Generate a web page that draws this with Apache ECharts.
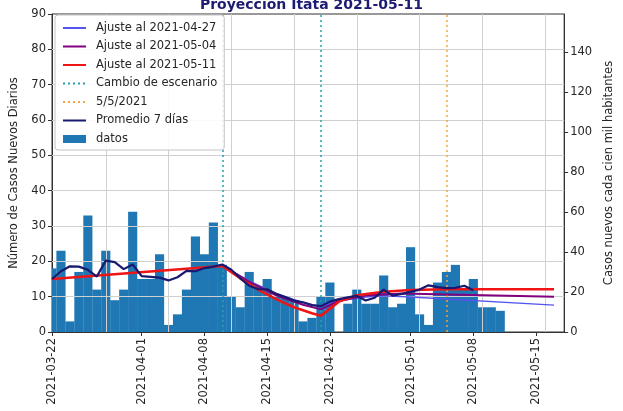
<!DOCTYPE html>
<html>
<head>
<meta charset="utf-8">
<script src="https://cdn.jsdelivr.net/npm/echarts@6/dist/echarts.min.js"></script>
<style>
  html, body { margin: 0; padding: 0; background: #fff; }
  #chart { width: 623px; height: 411px; }
</style>
</head>
<body>
<div id="chart"></div>
<script>
// casos diarios, 2021-03-22 .. 2021-05-11
const fechas = [
  '2021-03-22', '2021-03-23', '2021-03-24', '2021-03-25', '2021-03-26', '2021-03-27', '2021-03-28',
  '2021-03-29', '2021-03-30', '2021-03-31', '2021-04-01', '2021-04-02', '2021-04-03', '2021-04-04',
  '2021-04-05', '2021-04-06', '2021-04-07', '2021-04-08', '2021-04-09', '2021-04-10', '2021-04-11',
  '2021-04-12', '2021-04-13', '2021-04-14', '2021-04-15', '2021-04-16', '2021-04-17', '2021-04-18',
  '2021-04-19', '2021-04-20', '2021-04-21', '2021-04-22', '2021-04-23', '2021-04-24', '2021-04-25',
  '2021-04-26', '2021-04-27', '2021-04-28', '2021-04-29', '2021-04-30', '2021-05-01', '2021-05-02',
  '2021-05-03', '2021-05-04', '2021-05-05', '2021-05-06', '2021-05-07', '2021-05-08', '2021-05-09',
  '2021-05-10', '2021-05-11'
]
const casos = [
  18, 23, 3, 17, 33, 12, 23, 9, 12, 34,
  15, 15, 22, 2, 5, 12, 27, 22, 31, 19,
  10, 7, 17, 13, 15, 10, 10, 9, 3, 4,
  10, 14, 0, 8, 12, 8, 8, 16, 7, 8,
  24, 5, 2, 14, 17, 19, 12, 15, 7, 7, 6
]
// promedio 7 dias (hasta 2021-05-08)
const promedio7 = [
  15.0, 17.2, 18.6, 18.5, 17.6, 15.7, 20.2, 19.8, 17.8, 19.1,
  15.8, 15.6, 15.4, 14.6, 15.5, 17.3, 17.2, 18.1, 18.5, 19.1,
  17.6, 15.2, 13.1, 12.1, 12.1, 10.8, 9.9, 8.9, 8.4, 7.6,
  7.3, 8.6, 9.3, 9.8, 10.2, 8.9, 9.7, 12.0, 10.3, 10.8,
  11.4, 12.0, 13.2, 12.7, 12.4, 12.5, 13.1, 11.8
]

const ajuste0427 = [
  ['2021-04-10', 18.8], ['2021-04-13', 14.5], ['2021-04-16', 10.9], ['2021-04-19', 8.3],
  ['2021-04-21', 7.2], ['2021-04-23', 8.8], ['2021-04-26', 9.9], ['2021-04-28', 10.2],
  ['2021-05-01', 9.9], ['2021-05-17', 7.6]
]
const ajuste0504 = [
  ['2021-04-10', 18.8], ['2021-04-13', 14.2], ['2021-04-16', 10.4], ['2021-04-19', 7.7],
  ['2021-04-21', 6.4], ['2021-04-23', 8.8], ['2021-04-26', 10.3], ['2021-04-30', 10.9],
  ['2021-05-17', 10.0]
]
const ajuste0511 = [
  ['2021-03-22', 15.0], ['2021-04-10', 18.7], ['2021-04-12', 15.2], ['2021-04-14', 12.0],
  ['2021-04-16', 9.3], ['2021-04-18', 7.0], ['2021-04-20', 5.3], ['2021-04-21', 4.6],
  ['2021-04-23', 8.6], ['2021-04-25', 10.4], ['2021-04-28', 11.4], ['2021-05-01', 11.9],
  ['2021-05-05', 12.1], ['2021-05-17', 12.1]
]

const cambioEscenario = ['2021-04-10', '2021-04-21']
const fecha0505 = ['2021-05-05']

const tickFechas = ['2021-03-22', '2021-04-01', '2021-04-08', '2021-04-15', '2021-04-22', '2021-05-01', '2021-05-08', '2021-05-15']
const gridFechas = ['2021-03-28', '2021-04-04', '2021-04-11', '2021-04-18', '2021-04-25', '2021-05-02', '2021-05-09', '2021-05-16']
const gridCasos = [10, 20, 30, 40, 50, 60, 70, 80]
const ticksCienMil = [0, 20, 40, 60, 80, 100, 120, 140]
const factorCienMil = 1.767  // casos -> casos por 100 mil hab.
const finEje = 57.13         // dias desde 2021-03-22 hasta el borde derecho

// x = dias desde 2021-03-22
const t0 = Date.UTC(2021, 2, 22)
const dia = f => (Date.parse(f + 'T00:00:00Z') - t0) / 86400000
const fmtFecha = d => new Date(t0 + Math.round(d) * 86400000).toISOString().slice(0, 10)
const pares = arr => arr.map(p => [dia(p[0]), p[1]])

const font = 'DejaVu Sans'
const textColor = '#262626'
const barColor = '#1f77b4'

const vline = (fechasList, color) => ({
  z: 3,
  symbol: ['none', 'none'],
  silent: true,
  label: { show: false },
  lineStyle: { color: color, type: [2, 3], width: 1.5 },
  data: fechasList.map(f => ({ xAxis: dia(f) }))
})

// legend entries for lines: hide the marker circle, keep the line
const lineItem = name => ({ name: name, itemStyle: { opacity: 0 } })

// one-day wide bars, clipped to the plot area (first bar is cut in half)
const renderBar = (params, api) => {
  const x = api.value(0)
  const top = api.coord([x - 0.51, api.value(1)])
  const base = api.coord([x + 0.51, 0])
  const cs = params.coordSys
  const shape = echarts.graphic.clipRectByRect(
    { x: top[0], y: top[1], width: base[0] - top[0], height: base[1] - top[1] },
    { x: cs.x, y: cs.y, width: cs.width, height: cs.height }
  )
  return shape && { type: 'rect', shape: shape, style: { fill: barColor } }
}

const chart = echarts.init(document.getElementById('chart'))
chart.setOption({
  animation: false,
  title: {
    text: 'Proyección Itata 2021-05-11',
    left: 'center',
    top: -7,
    textStyle: { fontFamily: font, fontSize: 14, fontWeight: 'bold', color: '#1c1c72' }
  },
  legend: {
    orient: 'vertical',
    left: 55,
    top: 15,
    z: 6,
    padding: [7, 7, 5, 7],
    itemWidth: 23,
    itemHeight: 8,
    itemGap: 6.5,
    backgroundColor: 'rgba(255,255,255,0.88)',
    borderColor: '#c4c4c4',
    borderWidth: 1,
    borderRadius: 3,
    textStyle: { fontFamily: font, fontSize: 11.5, color: textColor, padding: [0, 0, 0, 5] },
    data: [
      lineItem('Ajuste al 2021-04-27'), lineItem('Ajuste al 2021-05-04'), lineItem('Ajuste al 2021-05-11'),
      lineItem('Cambio de escenario'), lineItem('5/5/2021'), lineItem('Promedio 7 días'),
      { name: 'datos', icon: 'rect' }
    ]
  },
  grid: {
    left: 52, right: 46, top: 14, bottom: 79,
    show: true, borderColor: '#333', borderWidth: 1
  },
  xAxis: {
    type: 'value',
    min: 0,
    max: finEje,
    axisLine: { lineStyle: { color: '#333' } },
    axisTick: { show: true, length: 4, customValues: tickFechas.map(dia), lineStyle: { color: '#333' } },
    axisLabel: {
      customValues: tickFechas.map(dia),
      rotate: 90,
      margin: 6,
      fontFamily: font, fontSize: 11.5, color: textColor,
      formatter: v => fmtFecha(v)
    },
    splitLine: { show: false }
  },
  yAxis: [
    {
      type: 'value',
      min: 0, max: 90, interval: 10,
      name: 'Número de Casos Nuevos Diarios',
      nameLocation: 'middle',
      nameGap: 31,
      nameTextStyle: { fontFamily: font, fontSize: 11.5, color: textColor },
      axisLine: { show: true, lineStyle: { color: '#333' } },
      axisTick: { show: true, length: 4, lineStyle: { color: '#333' } },
      axisLabel: { fontFamily: font, fontSize: 11.5, color: textColor, margin: 6 },
      splitLine: { show: false }
    },
    {
      type: 'value',
      min: 0, max: 90 * factorCienMil,
      name: 'Casos nuevos cada cien mil habitantes',
      nameLocation: 'middle',
      nameGap: 25,
      nameRotate: 90,
      nameTextStyle: { fontFamily: font, fontSize: 11.5, color: textColor },
      axisLine: { show: true, lineStyle: { color: '#333' } },
      axisTick: { show: true, length: 4, customValues: ticksCienMil, lineStyle: { color: '#333' } },
      axisLabel: { customValues: ticksCienMil, fontFamily: font, fontSize: 11.5, color: textColor, margin: 6 },
      splitLine: { show: false }
    }
  ],
  series: [
    {
      name: 'datos',
      type: 'custom',
      z: 1,
      renderItem: renderBar,
      itemStyle: { color: barColor },
      encode: { x: 0, y: 1 },
      data: fechas.map((f, i) => [dia(f), casos[i]])
    },
    {
      name: 'grilla',
      type: 'line',
      z: 1.5,
      data: [],
      markLine: {
        z: 1.5,
        symbol: ['none', 'none'],
        silent: true,
        label: { show: false },
        lineStyle: { color: '#d0d0d0', type: 'solid', width: 1 },
        data: gridFechas.map(f => ({ xAxis: dia(f) })).concat(gridCasos.map(v => ({ yAxis: v })))
      }
    },
    {
      name: 'Ajuste al 2021-04-27',
      type: 'line', z: 3, symbol: 'none',
      lineStyle: { color: '#5656ee', width: 1.3 },
      itemStyle: { color: '#5656ee' },
      data: pares(ajuste0427)
    },
    {
      name: 'Ajuste al 2021-05-04',
      type: 'line', z: 3, symbol: 'none',
      lineStyle: { color: '#800080', width: 2 },
      itemStyle: { color: '#800080' },
      data: pares(ajuste0504)
    },
    {
      name: 'Ajuste al 2021-05-11',
      type: 'line', z: 3, symbol: 'none',
      lineStyle: { color: '#f01414', width: 2.6 },
      itemStyle: { color: '#f01414' },
      data: pares(ajuste0511)
    },
    {
      name: 'Cambio de escenario',
      type: 'line', z: 3, symbol: 'none',
      lineStyle: { color: '#24a2ab', type: [2, 3], width: 1.5 },
      itemStyle: { color: '#24a2ab' },
      data: [],
      markLine: vline(cambioEscenario, '#24a2ab')
    },
    {
      name: '5/5/2021',
      type: 'line', z: 3, symbol: 'none',
      lineStyle: { color: '#f5a443', type: [2, 3], width: 1.5 },
      itemStyle: { color: '#f5a443' },
      data: [],
      markLine: vline(fecha0505, '#f5a443')
    },
    {
      name: 'Promedio 7 días',
      type: 'line', z: 4, symbol: 'none',
      lineStyle: { color: '#191970', width: 2.2 },
      itemStyle: { color: '#191970' },
      data: promedio7.map((v, i) => [dia(fechas[i]), v])
    }
  ]
})
</script>
</body>
</html>
